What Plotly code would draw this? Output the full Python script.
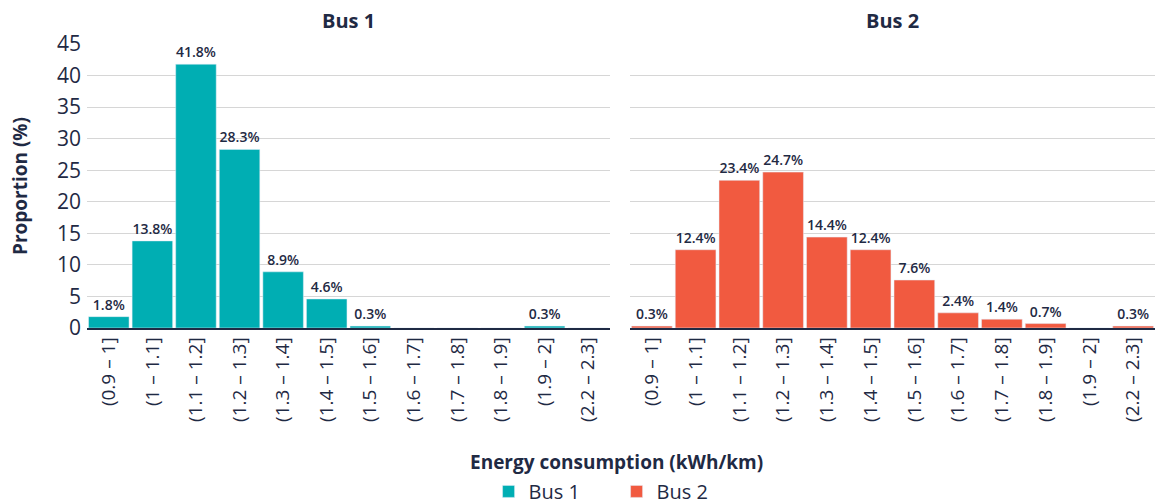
import plotly.graph_objects as go

categories = ["(0.9 – 1]", "(1 – 1.1]", "(1.1 – 1.2]", "(1.2 – 1.3]", "(1.3 – 1.4]", "(1.4 – 1.5]",
              "(1.5 – 1.6]", "(1.6 – 1.7]", "(1.7 – 1.8]", "(1.8 – 1.9]", "(1.9 – 2]", "(2.2 – 2.3]"]
bus1 = [1.8, 13.8, 41.8, 28.3, 8.9, 4.6, 0.3, 0, 0, 0, 0.3, 0]
bus2 = [0.3, 12.4, 23.4, 24.7, 14.4, 12.4, 7.6, 2.4, 1.4, 0.7, 0, 0.3]
y_ticks = [0, 5, 10, 15, 20, 25, 30, 35, 40, 45]

DARK = "#1f2a44"
C1 = "#00AEB3"
C2 = "#F15A40"
FONT = "Open Sans"

def labels(vals):
    return [f"{v:.1f}%" if v > 0 else "" for v in vals]

fig = go.Figure()
fig.add_trace(go.Bar(x=categories, y=bus1, name="Bus 1", marker_color=C1,
                     text=labels(bus1), textposition="outside", cliponaxis=False,
                     textfont=dict(size=14, color=DARK, family=FONT, weight=600),
                     xaxis="x", yaxis="y"))
fig.add_trace(go.Bar(x=categories, y=bus2, name="Bus 2", marker_color=C2,
                     text=labels(bus2), textposition="outside", cliponaxis=False,
                     textfont=dict(size=14, color=DARK, family=FONT, weight=600),
                     xaxis="x2", yaxis="y2"))

xcommon = dict(type="category", tickangle=-90, showline=True, linecolor=DARK, linewidth=1.5,
               tickfont=dict(size=19, color=DARK, family=FONT), showgrid=False, ticks="",
               automargin=False)
ycommon = dict(range=[0, 45], tickvals=y_ticks, showgrid=True, gridcolor="#d6d6d6", gridwidth=1,
               zeroline=False, showline=False, automargin=False)

fig.update_layout(
    width=1159, height=504,
    margin=dict(l=87, r=4, t=44, b=176, autoexpand=False),
    paper_bgcolor="white", plot_bgcolor="white",
    bargap=0.07,
    font=dict(family=FONT, color=DARK),
    xaxis=dict(domain=[0, 0.4897], **xcommon),
    xaxis2=dict(domain=[0.5084, 1], **xcommon),
    yaxis=dict(anchor="x", tickfont=dict(size=21, color=DARK, family=FONT), ticklabelstandoff=5, **ycommon),
    yaxis2=dict(anchor="x2", showticklabels=False, **ycommon),
    showlegend=True,
    legend=dict(orientation="h", x=0.376, xanchor="left", y=-0.644, yanchor="bottom",
                entrywidth=83, entrywidthmode="pixels", itemwidth=30,
                font=dict(size=20, color=DARK, family=FONT), traceorder="normal"),
    annotations=[
        dict(text="<b>Bus 1</b>", x=0.2448, y=1.0, xref="paper", yref="paper", xanchor="center",
             yanchor="bottom", yshift=8, showarrow=False, font=dict(size=20, color=DARK, family=FONT)),
        dict(text="<b>Bus 2</b>", x=0.7542, y=1.0, xref="paper", yref="paper", xanchor="center",
             yanchor="bottom", yshift=8, showarrow=False, font=dict(size=20, color=DARK, family=FONT)),
        dict(text="<b>Proportion (%)</b>", x=-0.0627, y=0.5, xref="paper", yref="paper", textangle=-90,
             xanchor="center", yanchor="middle", showarrow=False, font=dict(size=19, color=DARK, family=FONT)),
        dict(text="<b>Energy consumption (kWh/km)</b>", x=0.496, y=-0.472, xref="paper", yref="paper",
             xanchor="center", yanchor="middle", showarrow=False, font=dict(size=19, color=DARK, family=FONT)),
    ],
)

fig.write_html("out.html", config={"displayModeBar": False},
               post_script="document.body.style.margin='0px';document.body.style.overflow='hidden';")
